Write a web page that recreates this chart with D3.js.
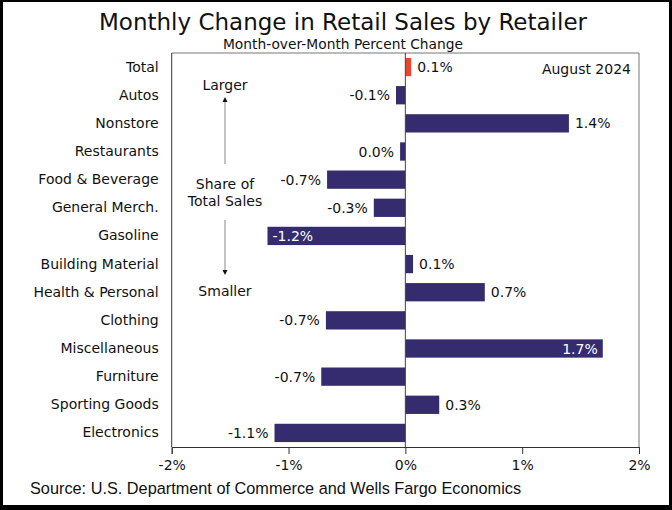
<!DOCTYPE html>
<html><head><meta charset="utf-8">
<script src="https://cdn.jsdelivr.net/npm/d3@7"></script>
<style>body{margin:0;background:#000;}svg{display:block;}</style>
</head><body>
<svg id="c" width="672" height="510"></svg>
<script>
const categories = ["Total","Autos","Nonstore","Restaurants","Food & Beverage","General Merch.","Gasoline","Building Material","Health & Personal","Clothing","Miscellaneous","Furniture","Sporting Goods","Electronics"];
const values = [0.05,-0.08,1.40,-0.045,-0.67,-0.27,-1.18,0.066,0.68,-0.68,1.69,-0.72,0.29,-1.12];
const valueLabels = ["0.1%","-0.1%","1.4%","0.0%","-0.7%","-0.3%","-1.2%","0.1%","0.7%","-0.7%","1.7%","-0.7%","0.3%","-1.1%"];
const xTicks = [-2,-1,0,1,2];

const svg = d3.select("#c");
svg.append("rect").attr("x",3).attr("y",2).attr("width",666).attr("height",503).attr("fill","#fff");

const L=171.7,R=639,T=53,B=447;
const x = d3.scaleLinear().domain([-2,2]).range([L,R]);
const y = d3.scaleBand().domain(categories).range([T,B]).paddingInner(0.35).paddingOuter(0.175);
const font = "'DejaVu Sans', Verdana, sans-serif";
const fs = 14;

svg.append("text").attr("x",343).attr("y",30).attr("text-anchor","middle")
  .attr("font-family",font).attr("font-size",23).attr("fill","#111")
  .text("Monthly Change in Retail Sales by Retailer");
svg.append("text").attr("x",343).attr("y",49).attr("text-anchor","middle")
  .attr("font-family",font).attr("font-size",13.8).attr("fill","#111")
  .text("Month-over-Month Percent Change");

// plot frame top/right
svg.append("line").attr("x1",L).attr("x2",R).attr("y1",T).attr("y2",T).attr("stroke","#777").attr("stroke-width",1);
svg.append("line").attr("x1",R).attr("x2",R).attr("y1",T).attr("y2",B).attr("stroke","#777").attr("stroke-width",1);
svg.append("line").attr("x1",L).attr("x2",L).attr("y1",T).attr("y2",B).attr("stroke","#333").attr("stroke-width",1);

// bars
svg.append("g").selectAll("rect").data(categories).join("rect")
  .attr("x",(d,i)=>x(Math.min(0,values[i])))
  .attr("width",(d,i)=>Math.abs(x(values[i])-x(0)))
  .attr("y",d=>y(d)).attr("height",y.bandwidth())
  .attr("fill",(d,i)=>i===0?"#e8472b":"#342c6e");

// zero line
svg.append("line").attr("x1",x(0)).attr("x2",x(0)).attr("y1",T).attr("y2",B).attr("stroke","#444").attr("stroke-width",1);

// x axis
const xAxis = d3.axisBottom(x).tickValues(xTicks).tickFormat(d=>d+"%").tickSize(7).tickPadding(6);
const gx = svg.append("g").attr("transform",`translate(0,${B})`).call(xAxis);
gx.select(".domain").attr("stroke","#333");
gx.selectAll(".tick line").attr("stroke","#333");
gx.selectAll("text").attr("font-family",font).attr("font-size",fs).attr("fill","#111");

// y axis labels
const yAxis = d3.axisLeft(y).tickSize(0).tickPadding(13);
const gy = svg.append("g").attr("transform",`translate(${L},0)`).call(yAxis);
gy.select(".domain").remove();
gy.selectAll("text").attr("font-family",font).attr("font-size",fs).attr("fill","#111");

// value labels
const inside = {"Gasoline":"start","Miscellaneous":"end"};
svg.append("g").selectAll("text").data(categories).join("text")
  .attr("font-family",font).attr("font-size",fs)
  .attr("y",d=>y(d)+y.bandwidth()/2).attr("dy","0.36em")
  .each(function(d,i){
    const v=values[i], s=d3.select(this);
    if(inside[d]==="start"){ s.attr("x",x(v)+5).attr("text-anchor","start").attr("fill","#fff"); }
    else if(inside[d]==="end"){ s.attr("x",x(v)-5).attr("text-anchor","end").attr("fill","#fff"); }
    else if(v>=0){ s.attr("x",x(v)+6).attr("text-anchor","start").attr("fill","#111"); }
    else { s.attr("x",x(v)-6).attr("text-anchor","end").attr("fill","#111"); }
  })
  .text((d,i)=>valueLabels[i]);

// annotation
svg.append("text").attr("x",631).attr("y",74).attr("text-anchor","end").attr("font-family",font).attr("font-size",fs).attr("fill","#111").text("August 2024");
const ax=225;
const ann = [["Larger",90],["Share of",189],["Total Sales",206],["Smaller",296]];
svg.append("g").selectAll("text").data(ann).join("text").attr("x",ax).attr("y",d=>d[1]).attr("text-anchor","middle")
  .attr("font-family",font).attr("font-size",fs).attr("fill","#111").text(d=>d[0]);
svg.append("line").attr("x1",ax).attr("x2",ax).attr("y1",164).attr("y2",101).attr("stroke","#888");
svg.append("path").attr("d",`M${ax-2.5},${102}L${ax},${97}L${ax+2.5},${102}Z`).attr("fill","#111");
svg.append("line").attr("x1",ax).attr("x2",ax).attr("y1",220).attr("y2",271).attr("stroke","#888");
svg.append("path").attr("d",`M${ax-2.5},${270}L${ax},${275}L${ax+2.5},${270}Z`).attr("fill","#111");

svg.append("text").attr("x",30).attr("y",494).attr("font-family","'Liberation Sans', Arial, sans-serif").attr("font-size",16.3).attr("fill","#111")
  .text("Source: U.S. Department of Commerce and Wells Fargo Economics");
</script>
</body></html>
